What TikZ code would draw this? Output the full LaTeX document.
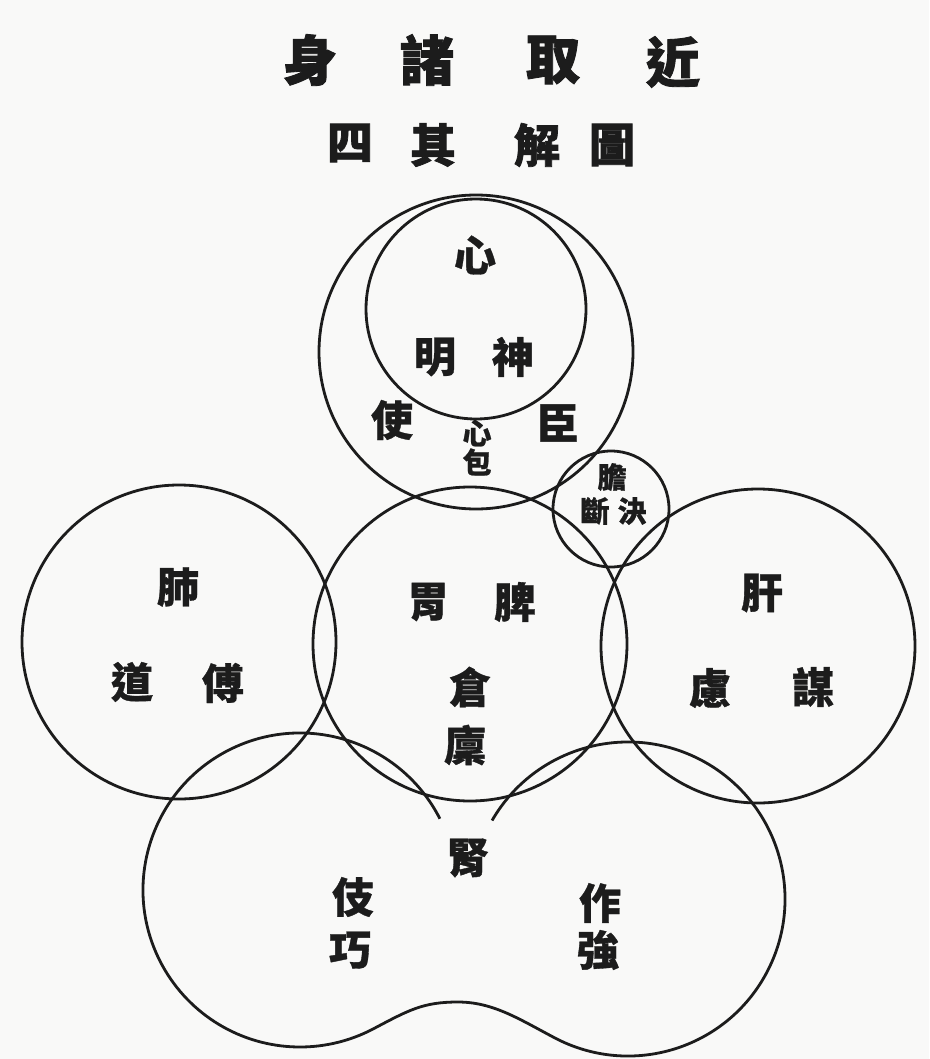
\documentclass[tikz,border=0pt]{standalone}
\usepackage{fontspec}
\newfontfamily\cjk[FakeBold=0.8]{Noto Sans CJK TC}
\newfontfamily\cjkb[FakeBold=1.6]{Noto Sans CJK TC}
\definecolor{ink}{RGB}{28,28,28}
\definecolor{paper}{RGB}{249,249,248}
\tikzset{
  ring/.style={draw=ink, line width=2.8pt, circle, inner sep=0pt, minimum size=#1},
  ch/.style={font=\cjk\bfseries\fontsize{42}{42}\selectfont, text=ink, inner sep=0pt},
  chsmall/.style={font=\cjk\bfseries\fontsize{29}{29}\selectfont, text=ink, inner sep=0pt},
  titleA/.style={font=\cjkb\bfseries\fontsize{54}{54}\selectfont, text=ink, inner sep=0pt},
  titleB/.style={font=\cjkb\bfseries\fontsize{46}{46}\selectfont, text=ink, inner sep=0pt},
  kidney/.style={draw=ink, line width=2.8pt, line join=round}
}
\begin{document}
\begin{tikzpicture}[x=1pt,y=1pt]
\fill[paper] (0,0) rectangle (929,-1059);
\useasboundingbox (0,0) rectangle (929,-1059);

% title
\node[titleA] (t1) at (310,-60) {身};
\node[titleA] (t2) at (427,-60) {諸};
\node[titleA] (t3) at (553,-60) {取};
\node[titleA] (t4) at (673,-62) {近};
\node[titleB] (s1) at (350,-143) {四};
\node[titleB] (s2) at (433,-145) {其};
\node[titleB] (s3) at (537,-145) {解};
\node[titleB] (s4) at (612,-145) {圖};

% circles
\node[ring=314pt] (outer) at (476,-352) {};
\node[ring=220pt] (heart) at (476,-309) {};
\node[ring=314pt] (spleen) at (470,-644) {};
\node[ring=314pt] (lung) at (179,-642) {};
\node[ring=314pt] (liver) at (758,-646) {};
\node[ring=116pt] (gall) at (611,-509) {};

% kidney shape
\coordinate (kl) at (300,-890);
\coordinate (kr) at (628,-899);
\coordinate (kpeak) at (458,-1002);
\draw[kidney] ([shift={(27:157)}]kl) arc[start angle=27, end angle=298, radius=157]
  .. controls (409,-1010) and (423,-1002) .. (kpeak)
  .. controls (493,-1002) and (519,-1019) .. ([shift={(-118:157)}]kr)
  arc[start angle=-118, end angle=150, radius=157];

% heart
\node[ch] (xin) at (475,-255) {心};
\node[ch] (ming) at (435,-357) {明};
\node[ch] (shen) at (513,-357) {神};
\node[ch] (shi) at (392,-420) {使};
\node[ch] (chen) at (558,-423) {臣};
\node[chsmall] (xin2) at (477,-433) {心};
\node[chsmall] (bao) at (477,-462) {包};

% gall bladder
\node[chsmall] (dan) at (612,-477) {膽};
\node[chsmall] (duan) at (595,-511) {斷};
\node[chsmall] (jue) at (632,-511) {決};

% lung
\node[ch] (fei) at (178,-587) {肺};
\node[ch] (dao) at (132,-682) {道};
\node[ch] (fu) at (223,-683) {傅};

% spleen
\node[ch] (wei) at (428,-602) {胃};
\node[ch] (pi) at (515,-602) {脾};
\node[ch] (cang) at (470,-687) {倉};
\node[ch] (lin) at (465,-745) {廩};

% liver
\node[ch] (gan) at (762,-593) {肝};
\node[ch] (lv) at (710,-688) {慮};
\node[ch] (mou) at (813,-687) {謀};

% kidney
\node[ch] (shenk) at (468,-858) {腎};
\node[ch] (ji) at (353,-897) {伎};
\node[ch] (qiao) at (350,-950) {巧};
\node[ch] (zuo) at (600,-903) {作};
\node[ch] (qiang) at (598,-950) {強};
\end{tikzpicture}
\end{document}
